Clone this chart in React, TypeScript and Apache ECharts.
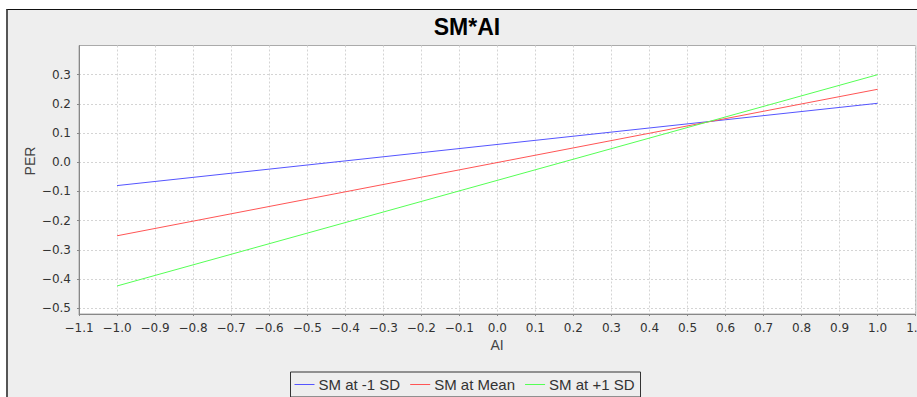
import React, { useEffect, useRef } from "react";
import * as echarts from "echarts";

const chartTitle = "SM*AI";
const xAxisTitle = "AI";
const yAxisTitle = "PER";
const xValues = [-1, 1];
const seriesNames = ["SM at -1 SD", "SM at Mean", "SM at +1 SD"];
const smLowValues = [-0.08, 0.202];
const smMeanValues = [-0.252, 0.25];
const smHighValues = [-0.424, 0.3];
const seriesColors = ["#5555ff", "#ff5555", "#55ff55"];
const yTickValues = [-0.5, -0.4, -0.3, -0.2, -0.1, 0, 0.1, 0.2, 0.3];
const xMin = -1.1;
const xMax = 1.1;
const xStep = 0.1;
const yMin = -0.52;
const yMax = 0.4;

const fmt = (v: number) => {
  if (Math.abs(v) < 1e-9) return "0.0";
  return v.toFixed(1).replace("-", "\u2212");
};

export default function App() {
  const ref = useRef<HTMLDivElement>(null);
  useEffect(() => {
    if (!ref.current) return;
    const chart = echarts.init(ref.current, undefined, { renderer: "svg" });
    const valueSets = [smLowValues, smMeanValues, smHighValues];
    const tickFont = { fontFamily: "DejaVu Sans", fontSize: 12, color: "#333" };
    chart.setOption({
      animation: false,
      backgroundColor: "transparent",
      grid: {
        left: 79,
        top: 45.5,
        right: 1.3,
        bottom: 83,
        containLabel: false,
        outerBoundsMode: "none",
        show: true,
        backgroundColor: "#ffffff",
        borderColor: "#aaaaaa",
        borderWidth: 1,
      },
      xAxis: {
        type: "value",
        min: xMin,
        max: xMax,
        interval: xStep,
        axisLine: { show: true, onZero: false, lineStyle: { color: "#888", width: 1 } },
        axisTick: { show: true, length: 2, lineStyle: { color: "#888" } },
        axisLabel: { ...tickFont, margin: 8, formatter: (v: number) => fmt(v), showMinLabel: true, showMaxLabel: true },
        splitLine: { show: true, lineStyle: { color: "#d4d4d4", type: [2, 2], width: 1 } },
      },
      yAxis: {
        type: "value",
        min: yMin,
        max: yMax,
        splitNumber: 9,
        minInterval: 0.1,
        maxInterval: 0.1,
        axisLine: { show: true, onZero: false, lineStyle: { color: "#888", width: 1 } },
        axisTick: { show: true, length: 2, lineStyle: { color: "#888" }, customValues: yTickValues },
        axisLabel: { ...tickFont, margin: 8, customValues: yTickValues, formatter: (v: number) => fmt(v) },
        splitLine: { show: true, lineStyle: { color: "#d4d4d4", type: [2, 2], width: 1 } },
      },
      legend: {
        left: 290.5,
        top: 372,
        orient: "horizontal",
        borderColor: "#333",
        borderWidth: 1,
        padding: [5, 6, 5, 4],
        itemWidth: 20,
        itemHeight: 1,
        itemGap: 10,
        icon: "rect",
        data: seriesNames,
        textStyle: { fontFamily: "Liberation Sans", fontSize: 15, color: "#333", padding: [0, 0, 0, -1] },
      },
      graphic: [
        {
          type: "text",
          x: 467,
          y: 27,
          style: {
            text: chartTitle,
            fontFamily: "Liberation Sans",
            fontWeight: "bold",
            fontSize: 23,
            fill: "#000",
            textAlign: "center",
            textVerticalAlign: "middle",
          },
        },
        {
          type: "text",
          x: 497,
          y: 345,
          style: {
            text: xAxisTitle,
            fontFamily: "Liberation Sans",
            fontSize: 14,
            fill: "#444",
            textAlign: "center",
            textVerticalAlign: "middle",
          },
        },
        {
          type: "text",
          x: 30,
          y: 161,
          rotation: Math.PI / 2,
          style: {
            text: yAxisTitle,
            fontFamily: "Liberation Sans",
            fontSize: 14,
            fill: "#444",
            textAlign: "center",
            textVerticalAlign: "middle",
          },
        },
      ],
      series: seriesNames.map((name, i) => ({
        name,
        type: "line",
        data: xValues.map((x, j) => [x, valueSets[i][j]]),
        showSymbol: false,
        symbol: "none",
        lineStyle: { color: seriesColors[i], width: 1 },
        itemStyle: { color: seriesColors[i] },
      })),
    });
    return () => chart.dispose();
  }, []);

  return (
    <div style={{ position: "absolute", left: 0, top: 0, width: 917, height: 397, background: "#fff", overflow: "hidden" }}>
      <div
        style={{
          position: "absolute",
          left: 6,
          top: 9,
          width: 1000,
          height: 500,
          background: "#eeeeee",
          borderTop: "1px solid #111",
          borderLeft: "2px solid #555",
        }}
      />
      <div ref={ref} style={{ position: "absolute", left: 0, top: 0, width: 917, height: 397 }} />
    </div>
  );
}
